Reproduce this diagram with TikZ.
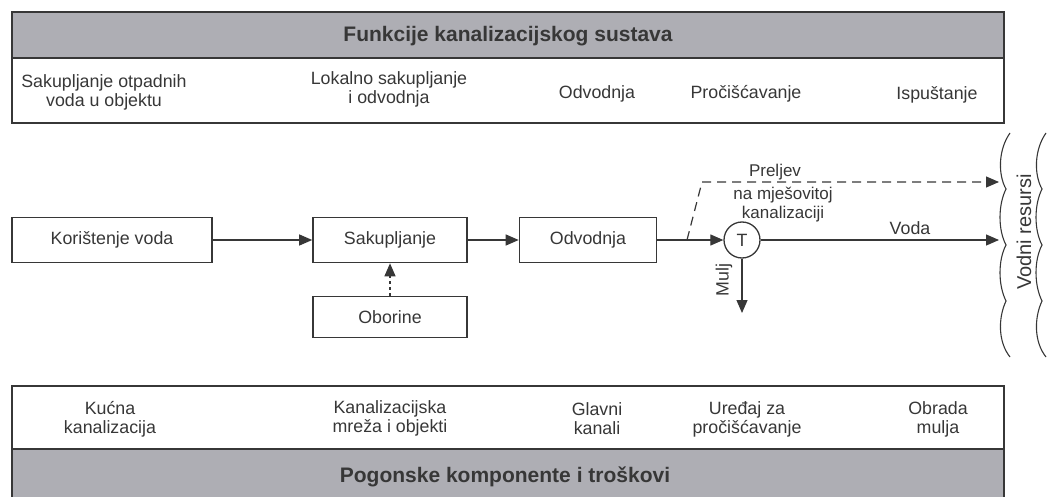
\documentclass[tikz,border=0pt]{standalone}
\usepackage{fontspec}
\setmainfont{Liberation Sans}
\usetikzlibrary{arrows.meta,positioning}

\definecolor{bandgray}{RGB}{174,174,180}
\definecolor{ink}{RGB}{55,55,55}

\tikzset{
    box/.style={draw=ink, line width=1.6pt, minimum height=45pt, text=ink, inner sep=0pt},
    lbl/.style={text=ink, align=center, inner sep=0pt},
    title/.style={lbl, font=\fontsize{21}{24}\selectfont\bfseries},
    flow/.style={draw=ink, line width=1.2pt, -{Triangle[length=13pt,width=11pt]}},
    overflow/.style={flow, dash pattern=on 9pt off 6pt},
    band/.style={draw=ink, line width=1.6pt}
}

\begin{document}
\begin{tikzpicture}[x=1pt, y=-1pt, font=\fontsize{17.8}{19}\selectfont]
        \useasboundingbox (0,0) rectangle (1051,497);

        % Gornja traka
        \filldraw[band, fill=bandgray] (12,12) rectangle (1004,58);
        \draw[band] (12,58) rectangle (1004,123);
        \node[title] (funkcije) at (508,36) {Funkcije kanalizacijskog sustava};
        \node[lbl] (f1) at (104,92) {Sakupljanje otpadnih\\voda u objektu};
        \node[lbl] (f2) at (389,89) {Lokalno sakupljanje\\i odvodnja};
        \node[lbl] (f3) at (597,94) {Odvodnja};
        \node[lbl] (f4) at (746,94) {Pročišćavanje};
        \node[lbl] (f5) at (937,95) {Ispuštanje};

        % Tok
        \node[box, minimum width=200pt] (koristenje) at (112,240) {Korištenje voda};
        \node[box, minimum width=154pt] (sakupljanje) at (390,240) {Sakupljanje};
        \node[box, minimum width=154pt, minimum height=41pt] (oborine) at (390,317) {Oborine};
        \node[box, minimum width=137pt] (odvodnja) at (588,240) {Odvodnja};
        \node[draw=ink, line width=1.3pt, circle, minimum size=36pt, inner sep=0pt, text=ink] (T) at (742,240) {T};

        \coordinate (preljev1) at (687,240);
        \coordinate (preljev2) at (702,182);
        \coordinate (rijekaP) at (999,182);
        \coordinate (rijekaV) at (999,240);
        \coordinate (mulj) at (742,313);

        \draw[flow] (koristenje) -- (sakupljanje);
        \draw[flow] (sakupljanje) -- (odvodnja);
        \draw[flow] (odvodnja) -- (T);
        \draw[flow, dashed] (oborine) -- (sakupljanje);
        \draw[overflow] (preljev1) -- (preljev2) -- (rijekaP);
        \draw[flow] (T) -- (rijekaV);
        \draw[flow] (T) -- (mulj);

        \node[lbl, font=\fontsize{17}{19}\selectfont] (preljev) at (775,172) {Preljev};
        \node[lbl, font=\fontsize{17}{19}\selectfont] (mjesovita) at (783,205) {na mješovitoj\\kanalizaciji};
        \node[lbl] (voda) at (910,228) {Voda};
        \node[lbl, rotate=90] (muljtxt) at (724,280) {Mulj};

        % Vodni resursi
        \foreach \xx in {1010,1046}
            \draw[ink, line width=1.1pt] (\xx,133)
                .. controls (\xx-12,150) and (\xx-12,175) .. (\xx-4,189)
                .. controls (\xx-12,205) and (\xx-12,230) .. (\xx-4,245)
                .. controls (\xx-12,260) and (\xx-12,285) .. (\xx-4,301)
                .. controls (\xx-12,318) and (\xx-12,342) .. (\xx,357);
        \node[lbl, rotate=90, font=\fontsize{20}{24}\selectfont] (resursi) at (1024,232) {Vodni resursi};

        % Donja traka
        \draw[band] (12,386) rectangle (1004,449);
        \filldraw[band, fill=bandgray] (12,449) rectangle (1004,505);
        \node[lbl] (k1) at (110,419) {Kućna\\kanalizacija};
        \node[lbl] (k2) at (390,418) {Kanalizacijska\\mreža i objekti};
        \node[lbl] (k3) at (597,419) {Glavni\\kanali};
        \node[lbl] (k4) at (747,419) {Uređaj za\\pročišćavanje};
        \node[lbl] (k5) at (938,419) {Obrada\\mulja};
        \node[title] (troskovi) at (505,477) {Pogonske komponente i troškovi};
    \end{tikzpicture}
\end{document}
